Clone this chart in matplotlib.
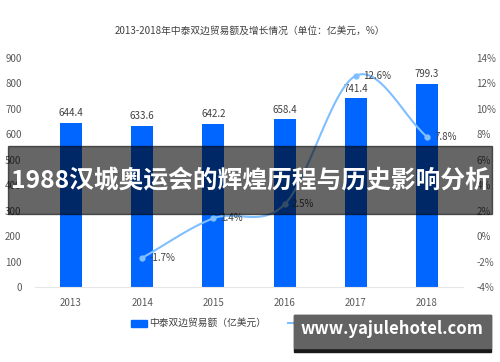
import numpy as np
import matplotlib
matplotlib.use("Agg")
import matplotlib.pyplot as plt

plt.rcParams['font.family'] = ['Noto Sans CJK SC', 'DejaVu Sans']

years = ['2013', '2014', '2015', '2016', '2017', '2018']
trade = [644.4, 633.6, 642.2, 658.4, 741.4, 799.3]
growth_years = ['2014', '2015', '2016', '2017', '2018']
growth = [-1.7, 1.4, 2.5, 12.6, 7.8]


def catmull_rom(x, y, n=30):
    # smooth curve through the points (like the "smooth" line in excel)
    x = np.asarray(x, float)
    y = np.asarray(y, float)
    px = np.concatenate([[2 * x[0] - x[1]], x, [2 * x[-1] - x[-2]]])
    py = np.concatenate([[2 * y[0] - y[1]], y, [2 * y[-1] - y[-2]]])
    xs, ys = [], []
    for i in range(1, len(px) - 2):
        t = np.linspace(0, 1, n)
        for p, out in ((px, xs), (py, ys)):
            p0, p1, p2, p3 = p[i - 1], p[i], p[i + 1], p[i + 2]
            out.append(0.5 * ((2 * p1) + (-p0 + p2) * t
                              + (2 * p0 - 5 * p1 + 4 * p2 - p3) * t ** 2
                              + (-p0 + 3 * p1 - 3 * p2 + p3) * t ** 3))
    return np.concatenate(xs), np.concatenate(ys)


fig = plt.figure(figsize=(5, 3.62), dpi=100)
ax = fig.add_axes([0.0708, 0.207, 0.8544, 0.633])
ax2 = ax.twinx()

x = np.arange(len(years))
bar_color = '#0066ff'
ax.bar(x, trade, width=0.31, color=bar_color, zorder=2)
for xi, v in zip(x, trade):
    ax.text(xi, v + 18, f'{v:.1f}', ha='center', va='bottom', fontsize=7, color='#404040')

ax.set_xlim(-0.5, 5.5)
ax.set_ylim(0, 900)
ax.set_yticks(range(0, 901, 100))
ax.set_xticks(x)
ax.set_xticklabels(years)
for s in ['top', 'right', 'left']:
    ax.spines[s].set_visible(False)
    ax2.spines[s].set_visible(False)
ax.spines['bottom'].set_color('#e6e6e6')
ax2.spines['bottom'].set_visible(False)
ax.tick_params(length=0, labelsize=7, colors='#595959')
ax.tick_params(axis='y', pad=10)
ax.tick_params(axis='x', pad=8)

gx = np.array([years.index(y) for y in growth_years])
line_color = '#80bfff'
sx, sy = catmull_rom(gx, growth)
ax2.plot(sx, sy, color=line_color, lw=1.5, zorder=3)
ax2.plot(gx, growth, 'o', color=line_color, ms=3.5, zorder=4)
for xi, v in zip(gx, growth):
    ax2.text(xi + 0.1, v, f'{v:.1f}%', ha='left', va='center', fontsize=7, color='#404040')
ax2.set_ylim(-4, 14)
ax2.set_yticks(range(-4, 15, 2))
ax2.set_yticklabels([f'{t}%' for t in range(-4, 15, 2)])
ax2.tick_params(length=0, labelsize=7, colors='#595959', pad=10)

fig.text(0.5, 0.915, '2013-2018年中泰双边贸易额及增长情况（单位：亿美元，%）',
         ha='center', va='center', fontsize=7, color='#404040')

# legend
fig.patches.append(plt.Rectangle((0.262, 0.098), 0.032, 0.018, transform=fig.transFigure,
                                 color=bar_color))
fig.text(0.298, 0.107, '中泰双边贸易额（亿美元）', ha='left', va='center', fontsize=7, color='#404040')
fig.lines.append(plt.Line2D([0.576, 0.612], [0.107, 0.107], transform=fig.transFigure,
                            color=line_color, lw=1.5))
fig.lines.append(plt.Line2D([0.594], [0.107], transform=fig.transFigure, marker='o',
                            color=line_color, ms=3))
fig.text(0.616, 0.107, '同比增速（%）', ha='left', va='center', fontsize=7, color='#404040')

# overlay banner
fig.patches.append(plt.Rectangle((0.016, 0.408), 0.968, 0.188, transform=fig.transFigure,
                                 color='black', alpha=0.6, zorder=10))
fig.text(0.5, 0.500, '1988汉城奥运会的辉煌历程与历史影响分析', ha='center', va='center',
         fontsize=17.8, fontweight='bold', color='white', zorder=11)

# watermark
fig.patches.append(plt.Rectangle((0.588, 0.028), 0.394, 0.103, transform=fig.transFigure,
                                 color='#1a1a1a', zorder=10))
fig.patches.append(plt.Rectangle((0.588, 0.040), 0.394, 0.091, transform=fig.transFigure,
                                 color='#636363', zorder=10))
fig.text(0.783, 0.09, 'www.yajulehotel.com', ha='center', va='center', fontsize=12,
         fontweight='bold', color='white', zorder=11)

fig.savefig('out.png', dpi=100)
